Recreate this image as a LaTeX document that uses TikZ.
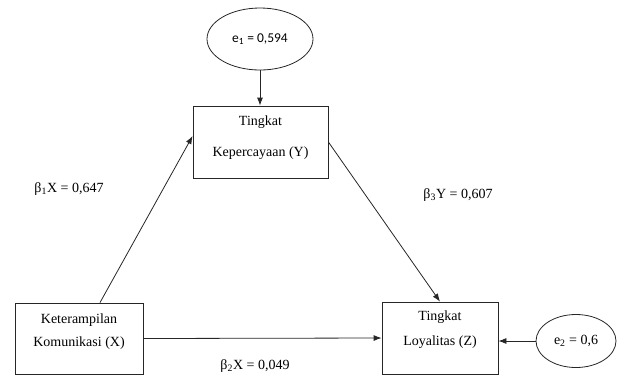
\documentclass[tikz,border=0pt]{standalone}
\usepackage{fontspec}
\setmainfont{Liberation Serif}
\newfontfamily\calibrifont{Carlito}
\usetikzlibrary{arrows.meta, positioning, shapes.geometric}

\tikzset{
  varbox/.style={draw=black!85, line width=0.8pt, minimum width=#1, minimum height=72pt, inner sep=0pt},
  errnode/.style={ellipse, draw=black!85, line width=0.8pt, inner sep=0pt},
  path/.style={draw=black!85, line width=0.8pt, -{Latex[length=8pt,width=6pt]}},
  coef/.style={font=\fontsize{14}{16}\selectfont, inner sep=1pt},
}

\begin{document}
\begin{tikzpicture}[x=1pt, y=-1pt]
\useasboundingbox (0,0) rectangle (629,376);
% Variable boxes
\node[varbox=135pt] (y) at (260.5,142) {};
\node[varbox=128pt, minimum height=71pt] (x) at (79,338.5) {};
\node[varbox=116pt] (z) at (440,338) {};
% Box texts
\node[align=center, font=\fontsize{14}{31}\selectfont] (ytext) at (260.5,137.5) {Tingkat\\Kepercayaan (Y)};
\node[align=center, font=\fontsize{14}{23}\selectfont] (xtext) at (79,331.5) {Keterampilan\\Komunikasi (X)};
\node[align=center, font=\fontsize{14}{25}\selectfont] (ztext) at (440,329.5) {Tingkat\\Loyalitas (Z)};
% Error terms
\node[errnode, minimum width=106pt, minimum height=62pt, font=\calibrifont\fontsize{13.5}{16}\selectfont] (e1) at (260,39) {e\textsubscript{1} = 0,594};
\node[errnode, minimum width=80pt, minimum height=53pt, font=\fontsize{14}{16}\selectfont] (e2) at (576,341) {e\textsubscript{2} = 0,6};
% Paths
\draw[path] (e1.south) -- (e1.south |- y.north);
\draw[path] ([xshift=21pt]x.north) -- ([yshift=6pt]y.west);
\draw[path] (y.east) -- (z.north);
\draw[path] (x.east) -- (z.west);
\draw[path] (e2.west) -- (e2.west -| z.east);
% Coefficients
\node[coef] (b1) at (69,189) {β\textsubscript{1}X = 0,647};
\node[coef] (b3) at (458,195) {β\textsubscript{3}Y = 0,607};
\node[coef] (b2) at (255,366) {β\textsubscript{2}X = 0,049};
\end{tikzpicture}
\end{document}
